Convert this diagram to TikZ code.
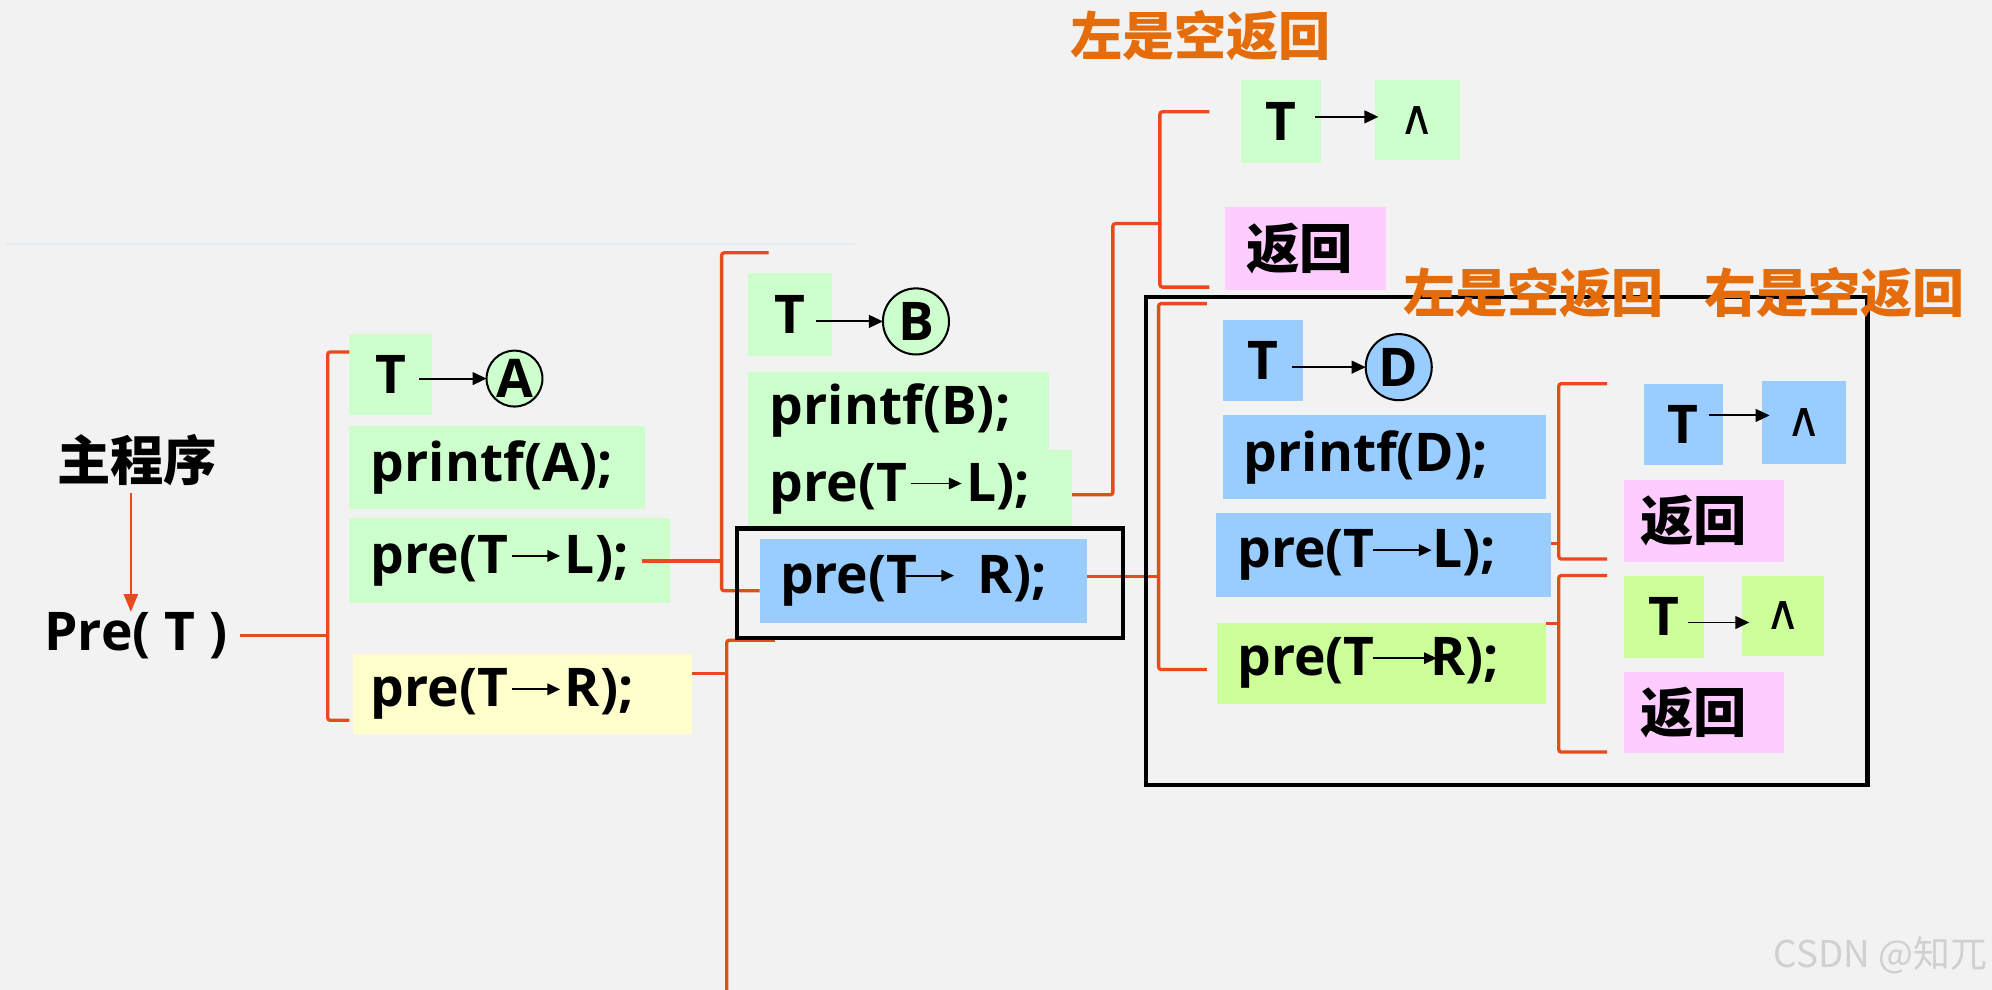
\documentclass[tikz,border=0pt]{standalone}
\usepackage{fontspec}
\setmainfont{Open Sans}
\newfontfamily\cjk{Noto Sans CJK SC}
\newfontfamily\sym{DejaVu Sans}
\usetikzlibrary{arrows.meta,calc}
\definecolor{bg}{HTML}{F2F2F2}
\definecolor{gA}{HTML}{CCFFCC}
\definecolor{yA}{HTML}{FFFFCC}
\definecolor{bA}{HTML}{99CCFF}
\definecolor{pk}{HTML}{FFCCFF}
\definecolor{lm}{HTML}{CCFF99}
\definecolor{rl}{HTML}{E8491D}
\definecolor{og}{HTML}{E46C0A}
\definecolor{wm}{HTML}{D0D0D0}
\definecolor{faint}{HTML}{E2EBF6}
\newcommand{\tar}[3]{\hspace{#1}\tikz[baseline=0pt]\draw[line width=1.5pt,-{Triangle[length=10pt,width=9pt]}] (0pt,0.33em) -- (#2,0.33em);\hspace{#3}}
\begin{document}
\begin{tikzpicture}[x=1pt,y=-1pt,
  every node/.style={inner sep=0pt, outer sep=0pt},
  lat/.style={font=\fontsize{42}{50}\selectfont\bfseries},
  han/.style={font={\cjk\bfseries\fontsize{42}{50}\selectfont}},
  cbox/.style={rectangle, anchor=north west, inner xsep=17pt, inner ysep=0pt, align=left, lat},
  hbox/.style={rectangle, anchor=north west, inner xsep=15pt, inner ysep=0pt, align=left, han},
  tbox/.style={rectangle, anchor=north west, lat},
  nbox/.style={rectangle, anchor=north west, font=\sym\fontsize{38}{40}\selectfont},
  circ/.style={circle, draw=black, line width=1.6pt, lat},
  rline/.style={draw=rl, line width=2.6pt, rounded corners=2pt},
  rarr/.style={draw=rl, fill=rl, line width=2pt, -{Triangle[length=14pt,width=11pt]}},
  tarr/.style={line width=1.5pt, -{Triangle[length=11pt,width=10pt]}},
  frame/.style={draw=black, line width=3.3pt},
  orng/.style={text=og, font={\cjk\bfseries\fontsize{41}{48}\selectfont}}
]
\fill[bg] (0,0) rectangle (1568,779);
\useasboundingbox (0,0) rectangle (1568,779);
\draw[faint, line width=1pt] (5,192) -- (673,192);

% main program
\node[han] (main) at (108,362) {主程序};
\node[lat, anchor=west] (pre) at (35,500) {Pre( T )};
\draw[rarr] ([xshift=-5pt,yshift=-6pt]main.south) -- ([xshift=-5pt]main.south |- pre.north);

% level A
\node[tbox, fill=gA, minimum width=65pt, minimum height=64pt] (tA) at (275,263) {T};
\node[circ, fill=gA, minimum size=44pt] (cA) at (405,298) {A};
\node[cbox, fill=gA, minimum height=66pt, text width=199pt] (pA) at (275,335) {printf(A);};
\node[cbox, fill=gA, minimum height=67pt, text width=218pt] (lA) at (275,408) {pre(T\tar{2pt}{38pt}{3pt}L);};
\node[cbox, fill=yA, inner xsep=14pt, minimum height=63pt, text width=239pt] (rA) at (278,515) {pre(T\tar{2pt}{38pt}{3pt}R);};

% level B
\node[tbox, fill=gA, minimum width=66pt, minimum height=65pt] (tB) at (589,215) {T};
\node[circ, fill=gA, minimum size=52pt] (cB) at (721,253) {B};
\node[cbox, fill=gA, minimum height=61pt, text width=203pt] (pB) at (589,293) {printf(B);};
\node[cbox, fill=gA, minimum height=61pt, text width=221pt] (lB) at (589,354) {pre(T\tar{2pt}{40pt}{3pt}L);};
\node[cbox, fill=bA, inner xsep=16pt, minimum height=66pt, text width=226pt] (rB) at (598,424) {pre(T\tar{-10pt}{38pt}{18pt}R);};

% level C (left of B is empty)
\node[tbox, fill=gA, minimum width=63pt, minimum height=65pt] (tC) at (977,63) {T};
\node[nbox, fill=gA, minimum width=67pt, minimum height=63pt] (nC) at (1082,63) {∧};
\node[hbox, fill=pk, inner xsep=17pt, minimum height=65pt, text width=93pt] (fC) at (964,163) {返回};

% level D
\node[tbox, fill=bA, minimum width=63pt, minimum height=64pt] (tD) at (963,252) {T};
\node[circ, fill=bA, minimum size=52pt] (cD) at (1101,289) {D};
\node[cbox, fill=bA, inner xsep=16pt, minimum height=66pt, text width=222pt] (pD) at (963,327) {printf(D);};
\node[cbox, fill=bA, minimum height=66pt, text width=230pt] (lD) at (957,404) {pre(T\tar{-2pt}{46pt}{0pt}L);};
\node[cbox, fill=lm, inner xsep=16pt, minimum height=64pt, text width=227pt] (rD) at (958,490) {pre(T\tar{-2pt}{50pt}{-6pt}R);};

% level E / F
\node[tbox, fill=bA, minimum width=62pt, minimum height=64pt] (tE) at (1294,302) {T};
\node[nbox, fill=bA, minimum width=66pt, minimum height=65pt] (nE) at (1387,300) {∧};
\node[hbox, fill=pk, inner xsep=13pt, minimum height=64pt, text width=100pt] (fE) at (1278,378) {返回};
\node[tbox, fill=lm, minimum width=63pt, minimum height=65pt] (tF) at (1278,453) {T};
\node[nbox, fill=lm, minimum width=65pt, minimum height=63pt] (nF) at (1371,453) {∧};
\node[hbox, fill=pk, inner xsep=13pt, minimum height=64pt, text width=100pt] (fF) at (1278,529) {返回};

% T -> arrows
\draw[tarr] ($(tA.east |- cA.west)+(-10pt,0)$) -- (cA.west);
\draw[tarr] ($(tB.east |- cB.west)+(-13pt,0)$) -- (cB.west);
\draw[tarr] ($(tC.east)+(-5pt,3.5pt)$) -- ($(nC.west)+(3pt,2.5pt)$);
\draw[tarr] ($(tD.east |- cD.west)+(-9pt,0)$) -- (cD.west);
\draw[tarr] ($(tE.east)+(-11pt,7pt)$) -- ($(nE.west)+(6pt,5.5pt)$);
\draw[tarr] ($(tF.east)+(-12pt,-4.5pt)$) -- ($(nF.west)+(6pt,-5.5pt)$);

% red brackets
\coordinate (kA) at (258,503);
\coordinate (kA1) at (275,277);
\coordinate (kA2) at (275,567);
\draw[rline] ([xshift=10pt]pre.east) -- (pre.east -| kA);
\draw[rline] (kA1) -| (kA) |- (kA2);

\coordinate (kB) at (568,441);
\coordinate (kB1) at (605,199);
\coordinate (kB2) at (598,465);
\draw[rline] ([xshift=-22pt]lA.east) -- (lA.east -| kB);
\draw[rline] (kB1) -| (kB) |- (kB2);

\coordinate (kC) at (572,530);
\coordinate (kC1) at (610,504);
\coordinate (kC2) at (572,784);
\draw[rline] (rA.east |- kC) -- (kC);
\draw[rline] (kC1) -| (kC2);

\coordinate (kD) at (876,176);
\coordinate (kE) at (913,176);
\coordinate (kE1) at (952,88);
\coordinate (kE2) at (952,226);
\draw[rline] ([yshift=-5pt]lB.east) -| (kD) -- (kE);
\draw[rline] (kE1) -| (kE) |- (kE2);

\coordinate (kF) at (912,454);
\coordinate (kF1) at (950,239);
\coordinate (kF2) at (950,527);
\draw[rline] (rB.east |- kF) -- (kF);
\draw[rline] (kF1) -| (kF) |- (kF2);

\coordinate (kG) at (1227,428);
\coordinate (kG1) at (1265,302);
\coordinate (kG2) at (1265,440);
\draw[rline] (lD.east |- kG) -- (kG);
\draw[rline] (kG1) -| (kG) |- (kG2);

\coordinate (kH) at (1227,491);
\coordinate (kH1) at (1265,453);
\coordinate (kH2) at (1265,592);
\draw[rline] (rD.east |- kH) -- (kH);
\draw[rline] (kH1) -| (kH) |- (kH2);

% black frames
\draw[frame] (580,416) rectangle (884,502);
\draw[frame] (902,234) rectangle (1470,618);

% orange notes
\node[orng] (o1) at (945,28) {左是空返回};
\node[orng] (o2) at (1207,230) {左是空返回};
\node[orng] (o3) at (1444,230) {右是空返回};

% watermark
\node[text=wm, anchor=east, font={\cjk\fontsize{29}{32}\selectfont}] (wmk) at (1564,752) {CSDN @知兀};
\end{tikzpicture}
\end{document}
